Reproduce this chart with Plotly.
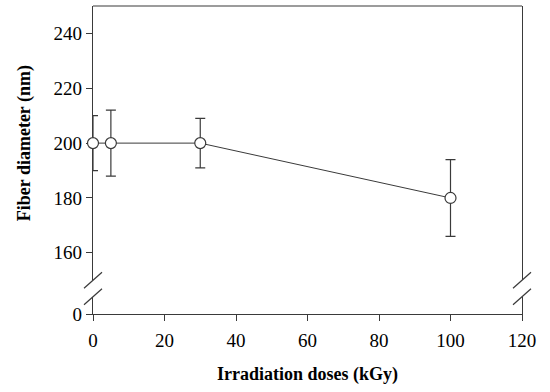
import plotly.graph_objects as go

doses = [0, 5, 30, 100]
diameter = [200, 200, 200, 180]
err = [10, 12, 9, 14]
y_ticks_main = [160, 180, 200, 220, 240]
x_ticks = [0, 20, 40, 60, 80, 100, 120]

ink = "#3a3a3a"
font_family = "Liberation Serif, Times New Roman, serif"

fig = go.Figure()
fig.add_trace(go.Scatter(
    x=doses, y=diameter, mode="lines+markers",
    line=dict(color=ink, width=1),
    marker=dict(size=11, color="white", line=dict(color=ink, width=1.2)),
    error_y=dict(type="data", array=err, visible=True, color=ink, thickness=1.2, width=5),
    cliponaxis=False, showlegend=False, xaxis="x", yaxis="y",
))
fig.add_trace(go.Scatter(x=[], y=[], xaxis="x", yaxis="y2", showlegend=False, hoverinfo="skip"))

axis_common = dict(showline=True, linecolor=ink, linewidth=1.2, ticks="outside",
                   tickcolor=ink, tickwidth=1.2, ticklen=6, showgrid=False, zeroline=False,
                   tickfont=dict(family=font_family, size=19, color="black"),
                   layer="below traces", automargin=False)

fig.update_layout(
    width=550, height=392,
    margin=dict(l=93, r=28, t=6, b=78),
    plot_bgcolor="white", paper_bgcolor="white",
    xaxis=dict(range=[0, 120], tickvals=x_ticks, anchor="y2", mirror=False,
               title=dict(text="Irradiation doses (kGy)", standoff=17,
                          font=dict(family=font_family, size=18, color="black", weight="bold")),
               ticklabelstandoff=3,
               **axis_common),
    yaxis=dict(range=[150, 250], domain=[0.1096, 1], tickvals=y_ticks_main, anchor="x", mirror=True,
               title=dict(text="Fiber diameter (nm)", standoff=18,
                          font=dict(family=font_family, size=18, color="black", weight="bold")),
               **axis_common),
    yaxis2=dict(range=[0, 10], domain=[0, 0.056], tickvals=[0], anchor="x", mirror=True,
                **axis_common),
)

# top frame line
fig.add_shape(type="line", xref="paper", yref="paper", x0=0, x1=1, y0=1, y1=1,
              line=dict(color=ink, width=1.2))
# break slashes on both sides
for xa in [0, 1]:
    for ya in [0.1096, 0.056]:
        fig.add_shape(type="line", xref="paper", yref="paper", xsizemode="pixel", ysizemode="pixel",
                      xanchor=xa, yanchor=ya, x0=-9, x1=9, y0=-8, y1=8,
                      line=dict(color=ink, width=1.2))

fig.write_html("out.html", config={"displayModeBar": False},
               post_script="document.body.style.margin='0';")
